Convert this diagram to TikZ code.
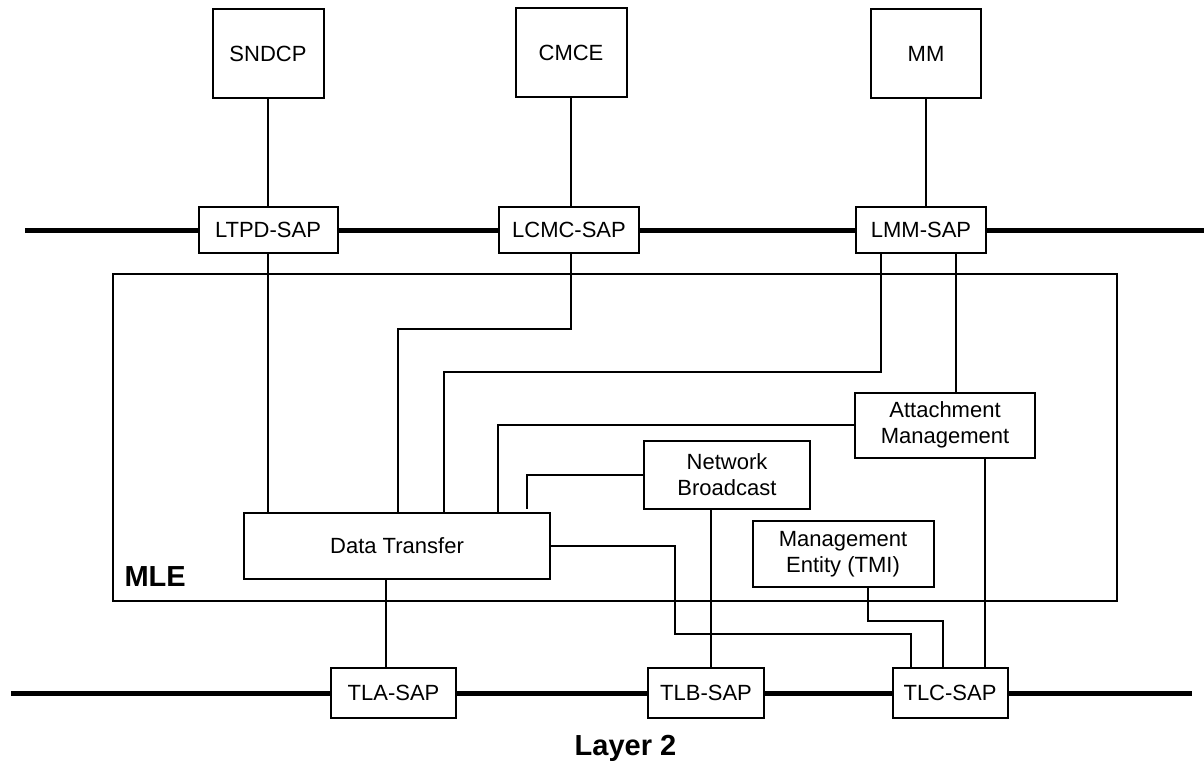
\documentclass[tikz,border=0pt]{standalone}
\usepackage{fontspec}
\setmainfont{Liberation Sans}
\begin{document}
\begin{tikzpicture}[x=1pt,y=-1pt,
	bloc/.style={draw,line width=2pt,inner sep=0pt,align=center,fill=white,
		font=\fontsize{22}{26}\selectfont},
	sap/.style={bloc,minimum height=46},
	lien/.style={line width=2pt},
	bus/.style={line width=5pt},
	titre/.style={font=\fontsize{29}{32}\selectfont\bfseries}]
	\useasboundingbox (0,0) rectangle (1204,763);
	%entités du haut
	\node[bloc,minimum width=111,minimum height=89] (sndcp) at (268,53.5) {SNDCP};
	\node[bloc,minimum width=111,minimum height=89] (cmce) at (571,52.5) {CMCE};
	\node[bloc,minimum width=110,minimum height=89] (mm) at (926,53.5) {MM};
	%SAP du haut
	\node[sap,minimum width=139] (ltpd) at (268,230) {LTPD-SAP};
	\node[sap,minimum width=140] (lcmc) at (569,230) {LCMC-SAP};
	\node[sap,minimum width=130] (lmm) at (921,230) {LMM-SAP};
	\coordinate (hautG) at (25,230);
	\coordinate (hautD) at (1204,230);
	\draw[bus] (hautG) -- (ltpd) (ltpd) -- (lcmc) (lcmc) -- (lmm) (lmm) -- (hautD);
	%MLE
	\node[draw,line width=2pt,inner sep=0pt,minimum width=1004,minimum height=327] (mle) at (615,437.5) {};
	\node[titre,anchor=base west] (nommle) at (121,586) {MLE};
	\node[bloc,minimum width=306,minimum height=66] (dt) at (397,546) {Data Transfer};
	\node[bloc,minimum width=180,minimum height=65] (am) at (945,425) {Attachment\\Management};
	\node[bloc,minimum width=166,minimum height=68] (nb) at (727,475) {Network\\Broadcast};
	\node[bloc,minimum width=181,minimum height=66] (me) at (843,554) {Management\\Entity (TMI)};
	%SAP du bas
	\node[sap,minimum width=125,minimum height=50] (tla) at (393.5,693) {TLA-SAP};
	\node[sap,minimum width=116,minimum height=50] (tlb) at (706,693) {TLB-SAP};
	\node[sap,minimum width=115,minimum height=50] (tlc) at (950,693) {TLC-SAP};
	\coordinate (basG) at (11,693);
	\coordinate (basD) at (1192,693);
	\draw[bus] (basG) -- (tla) (tla) -- (tlb) (tlb) -- (tlc) (tlc) -- (basD);
	%liens haut
	\draw[lien] (sndcp.south) -- (sndcp.south |- ltpd.north);
	\draw[lien] (cmce.south) -- (cmce.south |- lcmc.north);
	\draw[lien] (mm.south) -- (mm.south |- lmm.north);
	%liens dans la MLE
	\coordinate (k1) at (398,329);
	\coordinate (k2) at (444,372);
	\draw[lien] (ltpd.south) -- (ltpd.south |- dt.north);
	\draw[lien] ([xshift=2]lcmc.south) |- (k1) -- (k1 |- dt.north);
	\draw[lien] ([xshift=-40]lmm.south) |- (k2) -- (k2 |- dt.north);
	\draw[lien] ([xshift=35]lmm.south) -- ([xshift=35]lmm.south |- am.north);
	\draw[lien] (am.west) -| ([xshift=101]dt.north);
	\draw[lien] (nb.west) -| ([xshift=130,yshift=3]dt.north);
	%liens bas
	\coordinate (k3) at (675,634);
	\draw[lien] (dt.east) -| (k3) -| ([xshift=-39]tlc.north);
	\draw[lien] ([xshift=-16]nb.south) -- ([xshift=-16]nb.south |- tlb.north);
	\draw[lien] ([xshift=25]me.south) -- ++(0,33) -| ([xshift=-7]tlc.north);
	\draw[lien] ([xshift=40]am.south) -- ([xshift=40]am.south |- tlc.north);
	\draw[lien] ([xshift=-11]dt.south) -- ([xshift=-11]dt.south |- tla.north);
	\node[titre,anchor=base] (couche) at (625.5,755) {Layer 2};
\end{tikzpicture}
\end{document}
